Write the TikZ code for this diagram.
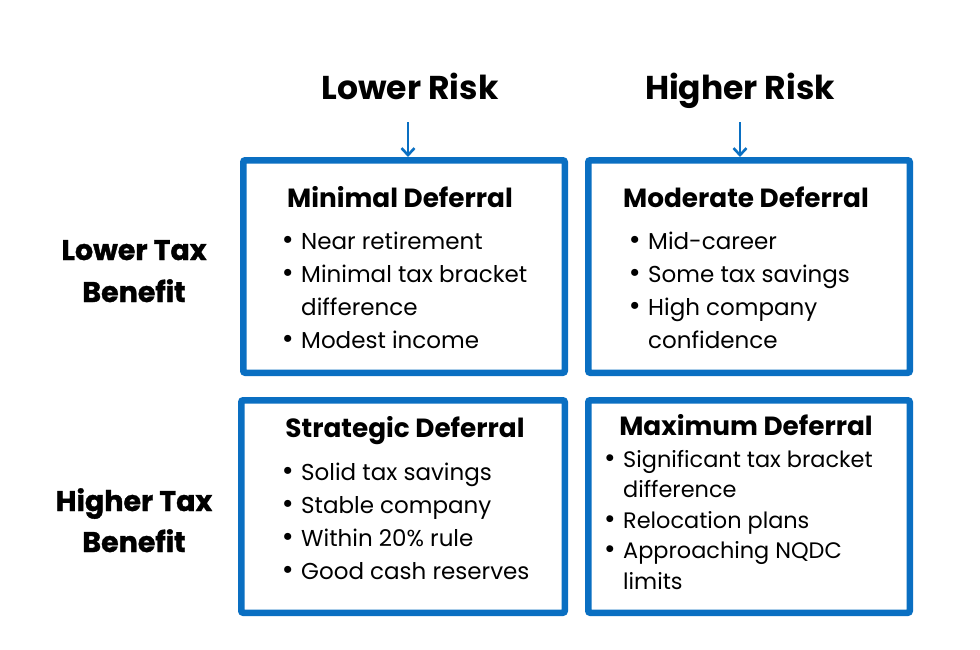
\documentclass[tikz,border=0pt]{standalone}
\usepackage{fontspec}
\setmainfont{Poppins}
\newfontfamily\heavyfont{Poppins}[BoldFeatures={FakeBold=1.2}]
\usetikzlibrary{arrows.meta}
\definecolor{boxblue}{RGB}{10,111,194}
\tikzset{
  boxframe/.style={draw=boxblue, line width=6.5pt, rounded corners=2pt},
  title/.style={font=\fontsize{33}{33}\selectfont\bfseries, anchor=base, inner sep=0pt},
  rowlab/.style={font=\heavyfont\fontsize{28.5}{28.5}\selectfont\bfseries, anchor=base, inner sep=0pt},
  head/.style={font=\fontsize{26.3}{26.3}\selectfont\bfseries, anchor=base, inner sep=0pt},
  bul/.style={font=\fontsize{23}{23}\selectfont, anchor=base west, inner sep=0pt},
  bulsm/.style={bul, font=\fontsize{22.4}{22.4}\selectfont},
  arr/.style={draw=boxblue, line width=2.6pt, -{Straight Barb[length=7pt,width=13pt,line width=2.6pt]}},
}
\newcommand\bl{\makebox[0pt][r]{\scalebox{1.25}{•}\hspace{7.5pt}}}
\begin{document}
\begin{tikzpicture}[x=1pt,y=-1pt]
\useasboundingbox[fill=white] (0,0) rectangle (980,649);
% boxes
\draw[boxframe] (243.25,160.25) rectangle (564.75,372.75);
\draw[boxframe] (588.25,160.25) rectangle (909.75,372.75);
\draw[boxframe] (241.25,400.25) rectangle (564.75,612.75);
\draw[boxframe] (588.25,400.25) rectangle (909.75,612.75);
% titles
\node[title] (t1) at (410,99) {Lower Risk};
\node[title] (t2) at (740,99) {Higher Risk};
\coordinate (a1s) at (408,122);
\coordinate (a1e) at (408,157);
\coordinate (a2s) at (740,122);
\coordinate (a2e) at (740,157);
\draw[arr] (a1s) -- (a1e);
\draw[arr] (a2s) -- (a2e);
% row labels
\node[rowlab] (r1a) at (134,260) {Lower Tax};
\node[rowlab] (r1b) at (134,302) {Benefit};
\node[rowlab] (r2a) at (134,511) {Higher Tax};
\node[rowlab] (r2b) at (134,552) {Benefit};
% box 1
\node[head] (h1) at (400,207) {Minimal Deferral};
\node[bul] (l11) at (301,249) {\bl Near retirement};
\node[bul] (l12) at (301,282) {\bl Minimal tax bracket};
\node[bul] (l13) at (301,315) {difference};
\node[bul] (l14) at (301,348) {\bl Modest income};
% box 2
\node[head] (h2) at (746,207) {Moderate Deferral};
\node[bul] (l21) at (648,249) {\bl Mid-career};
\node[bul] (l22) at (648,282) {\bl Some tax savings};
\node[bul] (l23) at (648,315) {\bl High company};
\node[bul] (l24) at (648,348) {confidence};
% box 3
\node[head] (h3) at (405,437) {Strategic Deferral};
\node[bul] (l31) at (301,480) {\bl Solid tax savings};
\node[bul] (l32) at (301,513) {\bl Stable company};
\node[bul] (l33) at (301,546) {\bl Within 20\% rule};
\node[bul] (l34) at (301,579) {\bl Good cash reserves};
% box 4
\node[head] (h4) at (746,435) {Maximum Deferral};
\node[bulsm] (l41) at (623,467) {\bl Significant tax bracket};
\node[bulsm] (l42) at (623,497) {difference};
\node[bulsm] (l43) at (623,528) {\bl Relocation plans};
\node[bulsm] (l44) at (623,558) {\bl Approaching NQDC};
\node[bulsm] (l45) at (623,589) {limits};
\end{tikzpicture}
\end{document}
